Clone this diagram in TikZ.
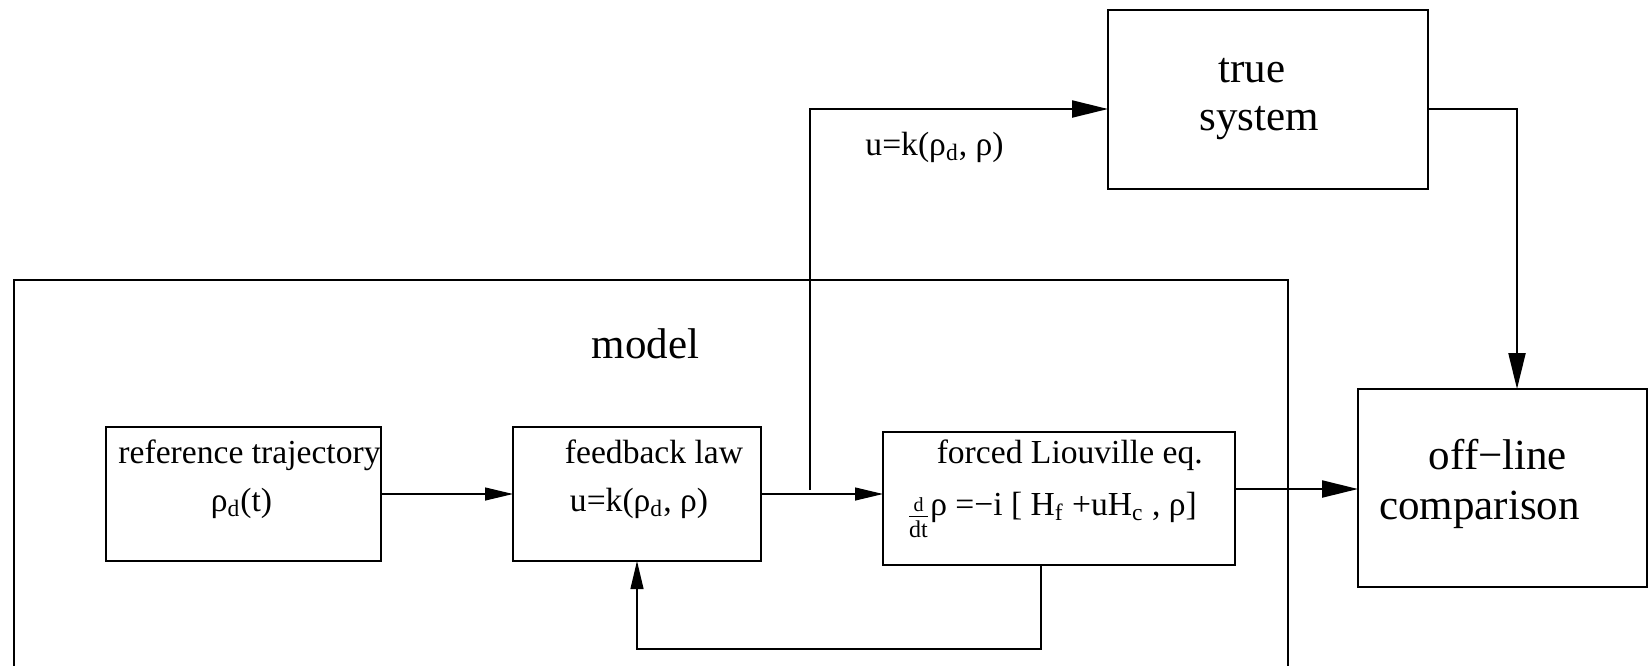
\documentclass[tikz,border=0pt]{standalone}
\usepackage{fontspec}
\setmainfont{Liberation Serif}
\usetikzlibrary{arrows.meta}

\newcommand{\smalltxt}{\fontsize{16.8}{20}\selectfont}
\newcommand{\bigtxt}{\fontsize{21.5}{25}\selectfont}
\newcommand{\ddt}{\raisebox{-0.3em}{$\frac{\mbox{\fontsize{10}{10}\selectfont d}}{\mbox{\fontsize{12}{12}\selectfont dt}}$}}

\tikzset{
  blk/.style={draw, line width=0.6pt, inner sep=0pt, outer sep=0pt},
  bigblk/.style={draw, line width=1.1pt, inner sep=0pt, outer sep=0pt},
  flow/.style={->, line width=0.6pt},
  bigflow/.style={-{Triangle[length=18pt, width=8.5pt]}, line width=1.1pt},
  lbl/.style={anchor=base, inner sep=0pt, font=\smalltxt},
  biglbl/.style={anchor=base, inner sep=0pt, font=\bigtxt}
}

\begin{document}
\begin{tikzpicture}[x=0.5pt, y=-0.5pt, >={Triangle[length=14pt, width=6.5pt]}]
\useasboundingbox (0,0) rectangle (1650,665);
\clip (0,0) rectangle (1650,665);

% model frame
\node[bigblk, minimum width=637pt, minimum height=220pt] (model) at (651,500) {};
\node[biglbl] (modellbl) at (645.6,358) {model};

% blocks inside the model
\node[blk, minimum width=137.5pt, minimum height=67pt] (ref) at (243.5,494) {};
\node[lbl] (reflbl) at (249.5,463) {reference trajectory};
\node[lbl] (refeq) at (241.5,511) {ρ\textsubscript{d}(t)};

\node[blk, minimum width=124pt, minimum height=67pt] (fb) at (637,494) {};
\node[lbl] (fblbl) at (654,463) {feedback law};
\node[lbl] (fbeq) at (639,511) {u=k(ρ\textsubscript{d}, ρ)};

\node[blk, minimum width=176pt, minimum height=66.5pt] (liou) at (1059,498.5) {};
\node[lbl] (lioulbl) at (1069.7,463) {forced Liouville eq.};
\node[lbl] (lioueq) at (1051.8,515) {\ddt ρ =−i [ H\textsubscript{f} +uH\textsubscript{c} , ρ]};

% outside blocks
\node[bigblk, minimum width=160pt, minimum height=89.5pt] (truesys) at (1268,99.5) {};
\node[biglbl] (truelbl) at (1252,82) {true};
\node[biglbl] (syslbl) at (1259,130.5) {system};

\node[bigblk, minimum width=144.5pt, minimum height=99pt] (offline) at (1502.5,488) {};
\node[biglbl] (offlbl) at (1498,469) {off−line};
\node[biglbl] (cmplbl) at (1479.5,519) {comparison};

\node[lbl] (ulbl) at (934.5,155) {u=k(ρ\textsubscript{d}, ρ)};

% connectors
\coordinate (split) at (810,490);
\draw[flow] (ref.east) -- (fb.west);
\draw[flow] (fb.east) -- (fb.east -| liou.west);
\draw[flow] ([xshift=-9pt]liou.south) -- ++(0,84) -| (fb.south);
\draw[bigflow] (split) |- ([yshift=-4.75pt]truesys.west);
\draw[bigflow] ([yshift=-4.75pt]truesys.east) -| ([xshift=7.25pt]offline.north);
\draw[bigflow] ([yshift=4.75pt]liou.east) -- ([yshift=4.75pt]liou.east -| offline.west);
\end{tikzpicture}
\end{document}
